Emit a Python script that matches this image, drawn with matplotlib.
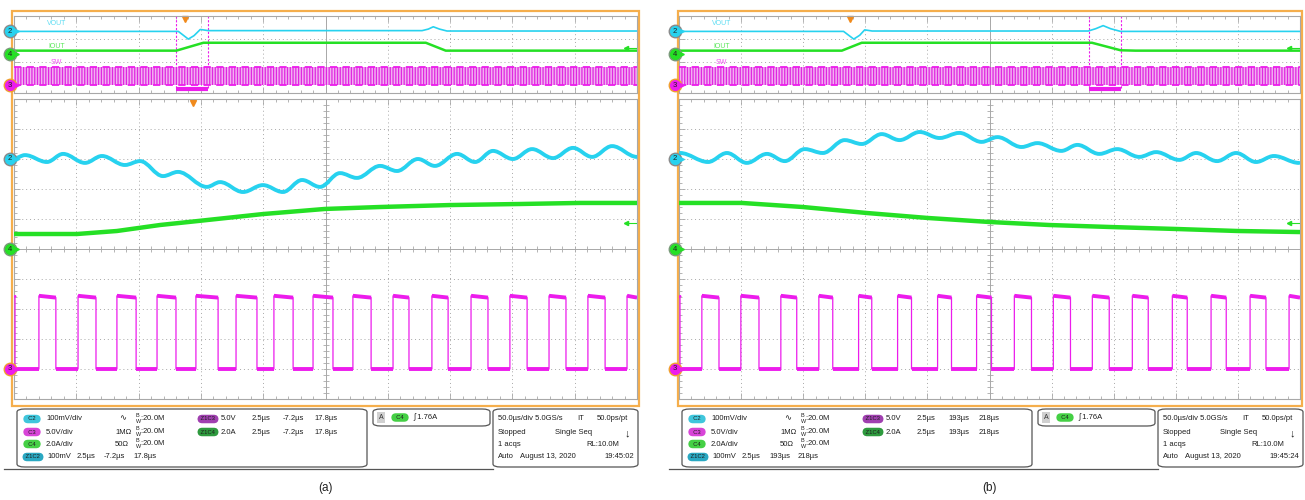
import numpy as np
import matplotlib
matplotlib.use('Agg')
import matplotlib.pyplot as plt
from matplotlib.path import Path
from matplotlib.patches import PathPatch, Rectangle, FancyBboxPatch
from matplotlib.transforms import blended_transform_factory

plt.rcParams['font.family'] = ['Liberation Sans', 'DejaVu Sans']
plt.rcParams['hatch.linewidth'] = 0.9

W, H = 1305, 500

CYAN = '#27d2ef'
GREEN = '#25e025'
MAGENTA = '#ec1cec'
ORANGE = '#f5ae4c'
GRID = '#a8a8a8'

# vertical settings: units per division, position in divisions
CH2 = (100.0, 3.0)   # VOUT, mV
CH3 = (5.0, -4.0)    # SW, V
CH4 = (2.0, 0.0)     # IOUT, A
TRIG_LEVEL = 1.76    # A
RECORD = (-137.5, 362.5)   # overview span, us

SW_HIGH = (12.2, 11.9)   # V at start / end of an on-pulse
SW_LOW = 0.0

# ---------------- (a) load step up ----------------
a_window = (-7.2, 17.8)
a_ov_vout_t = [-137.5, -5.6, 2.4, 7.0, 12.0, 18.5, 190, 195, 199, 204, 210, 362.5]
a_ov_vout_mv = [0, 0, -100, -55, 25, 10, 10, 30, 60, 30, 5, 5]
a_ov_iout_t = [-137.5, -7.2, 14.5, 193, 209, 362.5]
a_ov_iout_a = [1.0, 1.0, 3.05, 3.05, 1.0, 1.0]

a_vout_t = [-7.16, -6.76, -5.88, -5.23, -4.35, -3.67, -2.75, -2.14, -1.22, -0.62,
            0.54, 1.07, 1.99, 2.79, 3.59, 4.36, 5.08, 5.88, 6.56, 7.49, 8.17,
            9.01, 9.69, 10.58, 11.30, 12.02, 12.82, 13.59, 14.43, 15.23, 16.0,
            16.8, 17.8]
a_vout_mv = [3, 13, -10, 17, -13, 10, -20, -7, -57, -43, -93, -77, -110, -87,
             -110, -70, -93, -47, -63, -23, -40, 0, -23, 17, -10, 27, 0, 33, 3,
             37, 7, 43, 7]
a_iout_t = [-7.2, -4.67, -3.07, -1.34, 0.26, 2.79, 5.28, 7.49, 10.30, 13.10, 15.51, 17.8]
a_iout_a = [1.00, 1.00, 1.20, 1.60, 1.88, 2.33, 2.67, 2.80, 2.93, 3.00, 3.07, 3.07]
a_sw_rise = [-6.20, -4.63, -3.07, -1.46, 0.10, 1.71, 3.23, 4.80, 6.40, 8.01,
             9.57, 11.14, 12.70, 14.27, 15.83, 17.40]
a_sw_fall = [-7.16, -5.52, -3.91, -2.30, -0.70, 0.99, 2.55, 4.00, 5.60, 7.13,
             8.65, 10.22, 11.82, 13.39, 14.95, 16.52]

# ---------------- (b) load step down ----------------
b_window = (193.0, 218.0)
b_ov_vout_t = [-137.5, -5.0, 3.2, 8.0, 12.0, 18.0, 192, 198, 204, 210, 218, 362.5]
b_ov_vout_mv = [0, 0, -100, -50, 20, 5, 5, 35, 75, 35, 0, 0]
b_ov_iout_t = [-137.5, -6.4, 9.6, 195, 218, 230, 362.5]
b_ov_iout_a = [1.0, 1.0, 3.05, 3.05, 1.1, 1.0, 1.0]

b_vout_t = [193.04, 194.17, 194.93, 195.73, 196.54, 197.26, 198.06, 198.79,
            199.67, 200.36, 201.16, 201.88, 202.69, 203.49, 204.29, 205.18,
            205.82, 206.79, 207.43, 208.39, 209.04, 209.92, 210.64, 211.53,
            212.21, 213.14, 213.82, 214.66, 215.43, 216.23, 216.95, 217.96]
b_vout_mv = [20, -10, 20, -13, 17, -7, 33, 20, 63, 50, 83, 63, 90, 70, 87, 57,
             73, 40, 53, 27, 47, 17, 33, 7, 23, -3, 20, -7, 20, -10, 10, -13]
b_iout_t = [193.0, 195.53, 197.98, 200.56, 203.0, 205.5, 207.9, 210.3, 213.1, 215.5, 218.0]
b_iout_a = [3.07, 3.07, 2.80, 2.40, 2.07, 1.80, 1.60, 1.47, 1.33, 1.20, 1.13]
b_sw_rise = [193.92, 195.49, 197.10, 198.63, 200.23, 201.80, 203.41, 204.98,
             206.50, 208.07, 209.64, 211.25, 212.86, 214.42, 215.99, 217.56]
b_sw_fall = [193.04, 194.61, 196.22, 197.74, 199.19, 200.76, 202.36, 203.97,
             205.58, 207.19, 208.76, 210.32, 211.89, 213.46, 215.03, 216.63]

fig = plt.figure(figsize=(W / 100, H / 100), dpi=100)


def fy(y):
    return 1 - y / H


def rect(x0, y0, x1, y1):
    return [x0 / W, 1 - y1 / H, (x1 - x0) / W, (y1 - y0) / H]


def graticule(ax, xlim, main):
    ax.set_xlim(xlim)
    ax.set_ylim(-5, 5)
    ax.set_facecolor('none')
    div = (xlim[1] - xlim[0]) / 10
    xmaj = xlim[0] + div * np.arange(11)
    xmin = xlim[0] + div / 5 * np.arange(51)
    dot = (0, (1, 3))
    for i, x in enumerate(xmaj[1:-1], start=1):
        ax.axvline(x, color=GRID, lw=0.7, ls='-' if i == 5 else dot, zorder=0)
    if main:
        for y in range(-4, 5):
            ax.axhline(y, color=GRID, lw=0.7, ls='-' if y == 0 else dot, zorder=0)
        ymin = np.arange(-5, 5.01, 0.2)
        ax.plot(xmin, np.zeros_like(xmin), ls='none', marker='|', ms=4,
                mew=0.6, color=GRID, zorder=0)
        ax.plot(np.full_like(ymin, xmaj[5]), ymin, ls='none', marker='_',
                ms=4, mew=0.6, color=GRID, zorder=0)
        ax.set_yticks(np.arange(-5, 6))
        ax.set_yticks(ymin, minor=True)
    else:
        for y in (2, -1):
            ax.axhline(y, color=GRID, lw=0.7, ls=dot, zorder=0)
        ax.set_yticks([-4, -1, 2])
    ax.set_xticks(xmaj)
    ax.set_xticks(xmin, minor=True)
    ax.tick_params(which='both', direction='in', top=True, right=True,
                   labelbottom=False, labelleft=False, color=GRID, width=0.6)
    ax.tick_params(which='major', length=4)
    ax.tick_params(which='minor', length=2.5)
    for s in ax.spines.values():
        s.set_color(GRID)
        s.set_linewidth(0.8)


def channel_axes(base, ch):
    ax = base.twinx()
    scale, off = ch
    ax.set_ylim((-5 - off) * scale, (5 - off) * scale)
    ax.set_axis_off()
    return ax


def ch_marker(base, chax, label, fc, ec):
    tr = blended_transform_factory(base.transAxes, chax.transData)
    chax.plot([-0.0065], [0], 'o', ms=9, mfc=fc, mec=ec, mew=1.0,
              transform=tr, clip_on=False, zorder=10)
    chax.text(-0.0065, 0, label, transform=tr, fontsize=5.5, ha='center',
              va='center', color='#222222', zorder=11, clip_on=False)
    chax.plot([0.0045], [0], '>', ms=2.6, color=fc, transform=tr,
              clip_on=False, zorder=10)


def trig_level(base, chax):
    tr = blended_transform_factory(base.transAxes, chax.transData)
    chax.plot([0.982, 1.0], [TRIG_LEVEL, TRIG_LEVEL], color=GREEN, lw=0.8, transform=tr)
    chax.plot([0.982], [TRIG_LEVEL], '<', ms=3, color=GREEN, transform=tr)


def smooth_line(ax, xs, ys, **kw):
    # cubic segments with flat tangents at every ripple extremum
    verts = [(xs[0], ys[0])]
    codes = [Path.MOVETO]
    for i in range(1, len(xs)):
        dx = (xs[i] - xs[i - 1]) * 0.36
        verts += [(xs[i - 1] + dx, ys[i - 1]), (xs[i] - dx, ys[i]), (xs[i], ys[i])]
        codes += [Path.CURVE4] * 3
    ax.add_patch(PathPatch(Path(verts, codes), fill=False, capstyle='round',
                           joinstyle='round', **kw))


def switch_node(ax, window, rises, falls):
    edges = sorted([(t, 1) for t in rises] + [(t, 0) for t in falls])
    state = 1 if edges[0][1] == 0 else 0
    t_prev = window[0]
    pts_t, pts_v = [], []
    for t, new in edges + [(window[1], None)]:
        v0, v1 = SW_HIGH if state else (SW_LOW, SW_LOW)
        ax.plot([t_prev, t], [v0, v1], color=MAGENTA, lw=2.8,
                solid_capstyle='butt', zorder=4)
        pts_t += [t_prev, t]
        pts_v += [v0, v1]
        if new is not None:
            state = new
        t_prev = t
    ax.plot(pts_t, pts_v, color=MAGENTA, lw=0.9, zorder=4)


def panel(x0, x1, window, ov_vt, ov_vm, ov_it, ov_ia, vt, vm, it, ia,
          rises, falls, tag, stamp):
    # orange screen frame
    fig.patches.append(Rectangle(((x0 - 1.5) / W, fy(405.5)),
                                 (x1 - x0 + 3) / W, (405.5 - 10.5) / H,
                                 transform=fig.transFigure, fill=False,
                                 ec=ORANGE, lw=1.6, zorder=-1))

    # ---- record overview ----
    ov = fig.add_axes(rect(x0, 16, x1, 93))
    graticule(ov, RECORD, main=False)
    o2, o3, o4 = channel_axes(ov, CH2), channel_axes(ov, CH3), channel_axes(ov, CH4)
    o3.fill_between(RECORD, SW_LOW, SW_HIGH[1], facecolor='#f2b0f2',
                    edgecolor='#e028e0', hatch='||||||', lw=0, zorder=2)
    o3.hlines([SW_LOW, SW_HIGH[1]], *RECORD, color=MAGENTA, lw=1.3,
              ls=(0, (4, 3)), zorder=3)
    o4.plot(ov_it, ov_ia, color=GREEN, lw=1.8)
    o2.plot(ov_vt, ov_vm, color=CYAN, lw=1.2)
    for ax, name, c, y in ((o2, 'VOUT', CYAN, 0.9), (o4, 'IOUT', GREEN, 0.61),
                           (o3, 'SW', MAGENTA, 0.4)):
        ax.text(0.068, y, name, transform=ov.transAxes, fontsize=5,
                color=c, alpha=0.75, ha='center', va='center')
    for t in window:
        ov.axvline(t, ymin=0.07, ymax=1, color=MAGENTA, lw=0.8, ls=(0, (2, 1.5)))
    ov.hlines(-4.5, window[0], window[1], color=MAGENTA, lw=3)
    ov.plot([0], [4.6], 'v', ms=4.5, color='#f08a1c', clip_on=False)
    ch_marker(ov, o2, '2', CYAN, '#8a8a8a')
    ch_marker(ov, o4, '4', GREEN, '#7a9a7a')
    ch_marker(ov, o3, '3', MAGENTA, '#f0a030')
    trig_level(ov, o4)

    # ---- zoomed window ----
    mn = fig.add_axes(rect(x0, 99, x1, 399))
    graticule(mn, window, main=True)
    m2, m3, m4 = channel_axes(mn, CH2), channel_axes(mn, CH3), channel_axes(mn, CH4)
    m4.plot(it, ia, color=GREEN, lw=3.2, solid_capstyle='butt')
    smooth_line(m2, vt, vm, color=CYAN, lw=2.8)
    switch_node(m3, window, rises, falls)
    if window[0] <= 0 <= window[1]:
        mn.plot([0], [4.88], 'v', ms=4.5, color='#f08a1c', clip_on=False)
    ch_marker(mn, m2, '2', CYAN, '#8a8a8a')
    ch_marker(mn, m4, '4', GREEN, '#7a9a7a')
    ch_marker(mn, m3, '3', MAGENTA, '#f0a030')
    trig_level(mn, m4)

    # ---- settings read-out ----
    dx = x0 - 14
    for bx0, by0, bx1, by1 in ((17, 409, 367, 467), (373, 409, 490, 426),
                               (493, 409, 638, 467)):
        fig.patches.append(FancyBboxPatch(
            ((bx0 + dx) / W, fy(by1)), (bx1 - bx0) / W, (by1 - by0) / H,
            boxstyle='round,pad=0,rounding_size=0.006', transform=fig.transFigure,
            fc='white', ec='#555555', lw=0.9))
    fig.add_artist(plt.Line2D([(4 + dx) / W, (493 + dx) / W], [fy(469)] * 2,
                              color='#555555', lw=0.9))

    def txt(x, y, s, size=5.5, **kw):
        fig.text((x + dx) / W, fy(y), s, fontsize=size, color='#1e1e1e',
                 va='center', **kw)

    def pill(x, y, s, fc):
        fig.text((x + dx) / W, fy(y), s, fontsize=4.2, color='#1e1e1e',
                 ha='center', va='center',
                 bbox=dict(boxstyle='round,pad=0.3,rounding_size=0.8', fc=fc, ec='none'))

    rows = (419, 432, 444, 457)
    bw = r'${}^{\mathregular{B}}_{\mathregular{W}}$:20.0M'
    t0, t1 = stamp[0], stamp[1]
    pill(32, rows[0], '  C2  ', '#3fc6dc')
    txt(46, rows[0], '100mV/div')
    txt(119, rows[0], '∿', size=6)
    txt(135, rows[0], bw)
    pill(32, rows[1], '  C3  ', '#d845d8')
    txt(46, rows[1], '5.0V/div')
    txt(115, rows[1], '1MΩ')
    txt(135, rows[1], bw)
    pill(32, rows[2], '  C4  ', '#45d045')
    txt(46, rows[2], '2.0A/div')
    txt(115, rows[2], '50Ω')
    txt(135, rows[2], bw)
    pill(33, rows[3], ' Z1C2 ', '#2aa8c2')
    txt(47, rows[3], '100mV')
    txt(77, rows[3], '2.5µs')
    txt(104, rows[3], t0)
    txt(133, rows[3], t1)
    pill(208, rows[0], ' Z1C3 ', '#a040b0')
    txt(221, rows[0], '5.0V')
    pill(208, rows[1], ' Z1C4 ', '#2e9a3e')
    txt(221, rows[1], '2.0A')
    for r in rows[:2]:
        txt(252, r, '2.5µs')
        txt(283, r, t0)
        txt(314, r, t1)

    fig.text((381 + dx) / W, fy(417.5), 'A', fontsize=5, ha='center', va='center',
             color='#333333', bbox=dict(boxstyle='square,pad=0.3', fc='#d0d0d0', ec='none'))
    pill(400, 417.5, '  C4  ', '#45d045')
    txt(413, 417.5, '∫ 1.76A')

    txt(498, rows[0], '50.0µs/div 5.0GS/s')
    txt(577, rows[0], 'IT')
    txt(597, rows[0], '50.0ps/pt')
    txt(498, rows[1], 'Stopped')
    txt(555, rows[1], 'Single Seq')
    txt(625, rows[1] + 1, '↓', size=8, fontweight='bold')
    txt(498, rows[2], '1 acqs')
    txt(586, rows[2], 'RL:10.0M')
    txt(498, rows[3], 'Auto')
    txt(520, rows[3], 'August 13, 2020')
    txt(604, rows[3], stamp[2])

    fig.text((x0 + x1) / 2 / W, fy(488), tag, fontsize=8.5, ha='center',
             va='center', color='#222222')


panel(14, 637, a_window, a_ov_vout_t, a_ov_vout_mv, a_ov_iout_t, a_ov_iout_a,
      a_vout_t, a_vout_mv, a_iout_t, a_iout_a, a_sw_rise, a_sw_fall,
      '(a)', ('-7.2µs', '17.8µs', '19:45:02'))
panel(679, 1300, b_window, b_ov_vout_t, b_ov_vout_mv, b_ov_iout_t, b_ov_iout_a,
      b_vout_t, b_vout_mv, b_iout_t, b_iout_a, b_sw_rise, b_sw_fall,
      '(b)', ('193µs', '218µs', '19:45:24'))

fig.savefig('out.png', dpi=100, facecolor='white')
